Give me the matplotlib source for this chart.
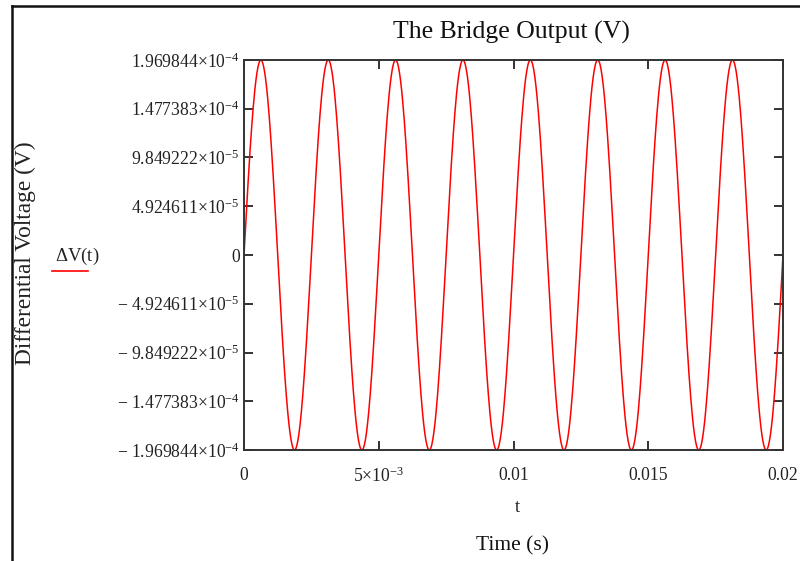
import numpy as np
import matplotlib
matplotlib.use("Agg")
import matplotlib.pyplot as plt
from matplotlib.lines import Line2D

plt.rcParams['font.family'] = ['Liberation Serif', 'DejaVu Serif']
plt.rcParams['mathtext.fontset'] = 'custom'
plt.rcParams['mathtext.rm'] = 'Liberation Serif'
plt.rcParams['mathtext.it'] = 'Liberation Serif:italic'

# ---- data ----
amplitude = 1.969844e-4        # peak of dV(t), volts
frequency = 400.0              # 8 full cycles over 0..0.02 s
t_start, t_end = 0.0, 0.02
n_samples = 1000

x_ticks = [0.0, 0.005, 0.01, 0.015, 0.02]
x_tick_labels = ["0", r"$\mathrm{5{\times}10^{-3}}$", "0.01", "0.015", "0.02"]
y_ticks = [-1.969844e-4, -1.477383e-4, -9.849222e-5, -4.924611e-5, 0.0,
           4.924611e-5, 9.849222e-5, 1.477383e-4, 1.969844e-4]
y_tick_labels = [r"$\mathrm{-\ 1.969844{\times}10^{-4}}$",
                 r"$\mathrm{-\ 1.477383{\times}10^{-4}}$",
                 r"$\mathrm{-\ 9.849222{\times}10^{-5}}$",
                 r"$\mathrm{-\ 4.924611{\times}10^{-5}}$",
                 "0",
                 r"$\mathrm{4.924611{\times}10^{-5}}$",
                 r"$\mathrm{9.849222{\times}10^{-5}}$",
                 r"$\mathrm{1.477383{\times}10^{-4}}$",
                 r"$\mathrm{1.969844{\times}10^{-4}}$"]

t = np.linspace(t_start, t_end, n_samples)
dV = amplitude * np.sin(2 * np.pi * frequency * t)

W, H = 800, 561
fig = plt.figure(figsize=(8, 5.61), dpi=100)
fig.patch.set_facecolor('white')

L, R, T, B = 244, 783, 60, 450
ax = fig.add_axes([L / W, 1 - B / H, (R - L) / W, (B - T) / H])
ax.plot(t, dV, color='#ff0000', lw=1.1)
ax.set_xlim(t_start, t_end)
ax.set_ylim(-amplitude, amplitude)
ax.set_xticks(x_ticks)
ax.set_xticklabels(x_tick_labels)
ax.set_yticks(y_ticks)
ax.set_yticklabels(y_tick_labels)
ax.tick_params(axis='both', direction='in', length=6.5, width=1.3, color='#222222',
               top=True, right=True, labelsize=12.7, labelcolor='#222222')
ax.tick_params(axis='y', pad=3)
ax.tick_params(axis='x', pad=12)
for s in ax.spines.values():
    s.set_linewidth(1.4)
    s.set_color('#333333')

def fx(x):
    return x / W

def fy(y):
    return 1 - y / H

fig.text(fx(511), fy(32), "The Bridge Output (V)", ha='center', va='center', fontsize=18.5, color='#111111')
fig.text(fx(25), fy(253), "Differential Voltage (V)", ha='center', va='center', rotation=90,
         fontsize=16.8, color='#222222')
fig.text(fx(77), fy(256), r"$\mathrm{\Delta V(t)}$", ha='center', va='center', fontsize=13.5, color='#222222')
fig.add_artist(Line2D([fx(52), fx(88)], [fy(271), fy(271)], color='#ff0000', lw=1.2))
fig.text(fx(517), fy(507), "t", ha='center', va='center', fontsize=13.5, color='#222222')
fig.text(fx(512), fy(546), "Time (s)", ha='center', va='center', fontsize=15.5, color='#111111')

# outer frame (left and top edges)
fig.add_artist(Line2D([fx(12), fx(12)], [fy(6), 0], color='#111111', lw=1.8))
fig.add_artist(Line2D([fx(12), 1], [fy(6), fy(6)], color='#111111', lw=1.8))

fig.savefig("out.png", dpi=100)
